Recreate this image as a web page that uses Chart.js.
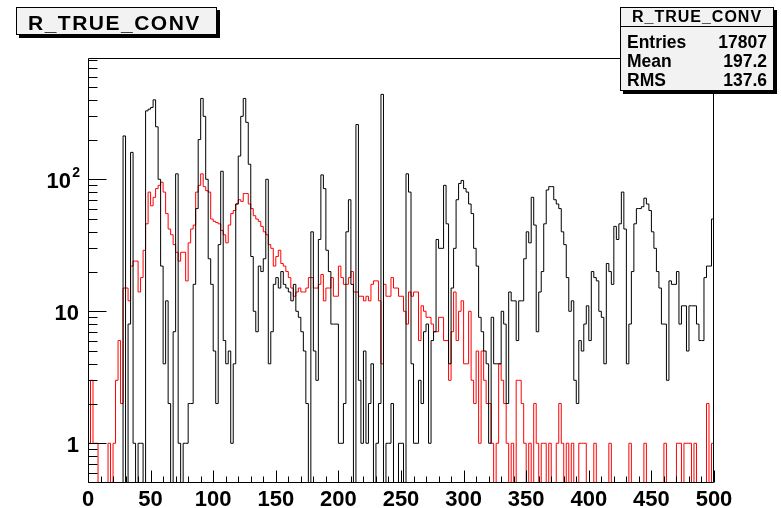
<!DOCTYPE html>
<html>
<head>
<meta charset="utf-8">
<script src="https://cdn.jsdelivr.net/npm/chart.js@4.4.1/dist/chart.umd.min.js"></script>
<style>
  html, body { margin: 0; padding: 0; background: #ffffff; }
  #c { display: block; }
</style>
</head>
<body>
<canvas id="c" width="781" height="508"></canvas>
<script>
// Histogram R_TRUE_CONV: all entries (black) and the matched subset (red), 2-unit bins on [0, 500)
const histTitle = 'R_TRUE_CONV';
const statsRows = [['Entries', '17807'], ['Mean', '197.2'], ['RMS', '137.6']];

const xMin = 0;
const xMax = 500;
const xTickValues = [0, 50, 100, 150, 200, 250, 300, 350, 400, 450, 500];
const yTickValues = [1, 10, 100];
const yTickLabels = [['1', ''], ['10', ''], ['10', '2']];

const countsAll = [
  0, 0, 0, 0, 0, 0, 0, 0, 0, 0,
  0, 0, 0, 0, 213, 0, 8, 160, 1, 0,
  1, 1, 0, 330, 340, 350, 400, 250, 100, 22,
  4, 12, 2, 0, 7, 110, 1, 0, 1, 1,
  2, 2, 16, 60, 200, 410, 300, 100, 25, 16,
  5, 2, 32, 115, 6, 4, 5, 1, 4, 65,
  150, 300, 410, 270, 130, 26, 10, 7, 22, 20,
  25, 100, 4, 7, 16, 18, 15, 20, 16, 15,
  14, 12, 16, 10, 9, 7, 5, 2, 0, 40,
  5, 3, 35, 108, 85, 29, 20, 8, 8, 8,
  1, 1, 2, 40, 70, 16, 0, 260, 3, 1,
  5, 1, 2, 4, 0, 1, 2, 440, 0, 1,
  1, 2, 0, 0, 1, 1, 0, 110, 80, 4,
  1, 1, 3, 2, 7, 8, 1, 6, 7, 35,
  30, 30, 90, 46, 4, 15, 30, 70, 93, 98,
  85, 80, 65, 55, 30, 22, 9, 7, 5, 4,
  1, 9, 4, 4, 4, 10, 8, 2, 14, 12,
  12, 6, 12, 12, 25, 40, 33, 73, 45, 7,
  14, 20, 46, 83, 88, 88, 70, 65, 60, 40,
  32, 18, 10, 12, 3, 2, 6, 5, 8, 11,
  6, 20, 18, 17, 10, 9, 4, 23, 20, 16,
  44, 35, 46, 80, 42, 4, 8, 20, 46, 60,
  60, 62, 72, 65, 58, 40, 30, 20, 15, 8,
  8, 3, 17, 16, 16, 20, 8, 11, 11, 5,
  11, 11, 11, 8, 6, 6, 18, 22, 22, 50
];

const countsMatched = [
  1, 3, 1, 1, 0, 0, 0, 0, 1, 0,
  1, 3, 6, 2, 15, 15, 12, 22, 24, 24,
  14, 18, 29, 46, 80, 63, 73, 85, 90, 95,
  80, 55, 42, 38, 32, 28, 24, 28, 28, 17,
  33, 42, 45, 80, 90, 110, 88, 82, 80, 50,
  48, 47, 46, 41, 38, 33, 45, 55, 58, 65,
  70, 68, 78, 78, 65, 60, 53, 50, 48, 44,
  40, 38, 32, 30, 22, 26, 29, 23, 22, 20,
  18, 15, 13, 14, 15, 14, 14, 15, 18, 18,
  15, 15, 16, 19, 12, 15, 15, 18, 13, 13,
  22, 18, 16, 16, 18, 20, 14, 14, 13, 13,
  12, 13, 12, 16, 17, 17, 12, 4, 16, 13,
  13, 18, 15, 15, 13, 13, 10, 8, 14, 13,
  14, 14, 6, 11, 10, 9, 9, 8, 7, 7,
  9, 9, 6, 6, 3, 7, 14, 6, 10, 12,
  4, 4, 10, 3, 2, 5, 1, 5, 3, 2,
  2, 1, 0, 1, 4, 3, 2, 1, 0, 1,
  0, 3, 3, 2, 1, 0, 1, 0, 2, 1,
  0, 1, 1, 0, 1, 0, 0, 1, 2, 1,
  0, 1, 0, 1, 0, 0, 1, 1, 1, 0,
  0, 0, 1, 0, 0, 0, 0, 0, 1, 0,
  0, 0, 0, 0, 0, 0, 1, 0, 0, 0,
  0, 0, 1, 0, 0, 0, 0, 0, 0, 0,
  1, 0, 0, 0, 0, 1, 1, 0, 1, 1,
  1, 0, 1, 0, 0, 0, 0, 2, 0, 1
];

// Log axis range; empty bins are drawn down to the frame bottom
const yMin = 0.5;
const yMax = 830;

const FONT = '"Liberation Sans", Arial, Helvetica, sans-serif';

function stepPoints(counts) {
  const w = (xMax - xMin) / counts.length;
  const pts = counts.map((c, i) => ({ x: xMin + i * w, y: c > 0 ? c : yMin }));
  pts.push({ x: xMax, y: pts[pts.length - 1].y });
  return pts;
}

// Ticks drawn inside the frame, y labels with superscript exponents, frame box
const rootAxes = {
  id: 'rootAxes',
  afterDatasetsDraw(chart) {
    const { ctx, chartArea: a, scales: { x, y } } = chart;
    const L = Math.round(a.left) + 0.5;
    const R = Math.round(a.right) - 0.5;
    const T = Math.round(a.top) + 0.5;
    const B = Math.round(a.bottom) - 0.5;
    ctx.save();
    ctx.strokeStyle = '#000';
    ctx.lineWidth = 1;
    ctx.beginPath();
    ctx.rect(L, T, R - L, B - T);
    // x ticks: major every 50, minor every 10
    for (let v = xMin; v <= xMax; v += 10) {
      const px = Math.round(x.getPixelForValue(v)) + 0.5;
      const len = xTickValues.includes(v) ? 12 : 6;
      ctx.moveTo(px, B);
      ctx.lineTo(px, B - len);
    }
    // y ticks: decades long, 2..9 short
    for (const d of [0.1, 1, 10, 100]) {
      for (let m = 1; m <= 9; m++) {
        const v = m * d;
        if (v <= yMin * 1.001 || v >= yMax) continue;
        const py = Math.round(y.getPixelForValue(v)) + 0.5;
        const len = m === 1 ? 18 : 9;
        ctx.moveTo(L, py);
        ctx.lineTo(L + len, py);
      }
    }
    ctx.stroke();

    // y labels
    ctx.fillStyle = '#000';
    ctx.textBaseline = 'middle';
    yTickValues.forEach((v, i) => {
      const [base, sup] = yTickLabels[i];
      const py = y.getPixelForValue(v) + 3;
      if (sup) {
        ctx.font = 'bold 14px ' + FONT;
        ctx.textAlign = 'right';
        ctx.fillText(sup, 80, py - 9);
        ctx.font = 'bold 22px ' + FONT;
        ctx.fillText(base, 71, py);
      } else {
        ctx.font = 'bold 22px ' + FONT;
        ctx.textAlign = 'right';
        ctx.fillText(base, 79, py);
      }
    });
    ctx.restore();
  },
  afterDraw(chart) {
    const ctx = chart.ctx;
    ctx.save();
    // title box
    ctx.fillStyle = '#000';
    ctx.fillRect(19, 10, 201, 28);
    ctx.fillStyle = '#f2f2f2';
    ctx.fillRect(16, 7, 201, 28);
    ctx.strokeStyle = '#000';
    ctx.lineWidth = 1;
    ctx.strokeRect(16.5, 7.5, 200, 27);
    ctx.fillStyle = '#000';
    ctx.font = 'bold 21px ' + FONT;
    ctx.textAlign = 'left';
    ctx.textBaseline = 'alphabetic';
    ctx.letterSpacing = '1.5px';
    ctx.fillText(histTitle, 28, 30);

    // statistics box
    const bx = 620, by = 7, bw = 154, bh = 84;
    ctx.fillStyle = '#000';
    ctx.fillRect(bx + 3, by + 3, bw, bh);
    ctx.fillStyle = '#f2f2f2';
    ctx.fillRect(bx, by, bw, bh);
    ctx.strokeStyle = '#000';
    ctx.strokeRect(bx + 0.5, by + 0.5, bw - 1, bh - 1);
    ctx.beginPath();
    ctx.moveTo(bx, 26.5);
    ctx.lineTo(bx + bw, 26.5);
    ctx.stroke();
    ctx.fillStyle = '#000';
    ctx.font = 'bold 16px ' + FONT;
    ctx.letterSpacing = '1px';
    ctx.textAlign = 'center';
    ctx.fillText(histTitle, bx + bw / 2, 22);
    ctx.letterSpacing = '0px';
    ctx.font = 'bold 17.5px ' + FONT;
    const baselines = [47.5, 66.5, 86];
    statsRows.forEach(([k, v], i) => {
      ctx.textAlign = 'left';
      ctx.fillText(k, 627, baselines[i]);
      ctx.textAlign = 'right';
      ctx.fillText(v, 767, baselines[i]);
    });
    ctx.restore();
  }
};

new Chart(document.getElementById('c'), {
  type: 'line',
  data: {
    datasets: [
      {
        data: stepPoints(countsAll),
        borderColor: '#000000',
        borderWidth: 1,
        stepped: true,
        pointRadius: 0,
        fill: false
      },
      {
        data: stepPoints(countsMatched),
        borderColor: '#ff0000',
        borderWidth: 1,
        stepped: true,
        pointRadius: 0,
        fill: false
      }
    ]
  },
  options: {
    responsive: false,
    animation: false,
    devicePixelRatio: 1,
    events: [],
    layout: { padding: { left: 0, right: 67, top: 58, bottom: 0 } },
    plugins: { legend: { display: false }, tooltip: { enabled: false }, title: { display: false } },
    scales: {
      x: {
        type: 'linear',
        min: xMin,
        max: xMax,
        afterBuildTicks: s => { s.ticks = xTickValues.map(v => ({ value: v })); },
        afterFit: s => { s.height = 25; },
        grid: { display: false, drawTicks: false },
        border: { display: false },
        ticks: {
          autoSkip: false,
          maxRotation: 0,
          padding: 4,
          color: '#000',
          font: { family: FONT, size: 22, weight: 'bold' },
          callback: v => String(v)
        }
      },
      y: {
        type: 'logarithmic',
        min: yMin,
        max: yMax,
        afterFit: s => { s.width = 88; },
        grid: { display: false, drawTicks: false },
        border: { display: false },
        ticks: { display: false }
      }
    }
  },
  plugins: [rootAxes]
});
</script>
</body>
</html>
